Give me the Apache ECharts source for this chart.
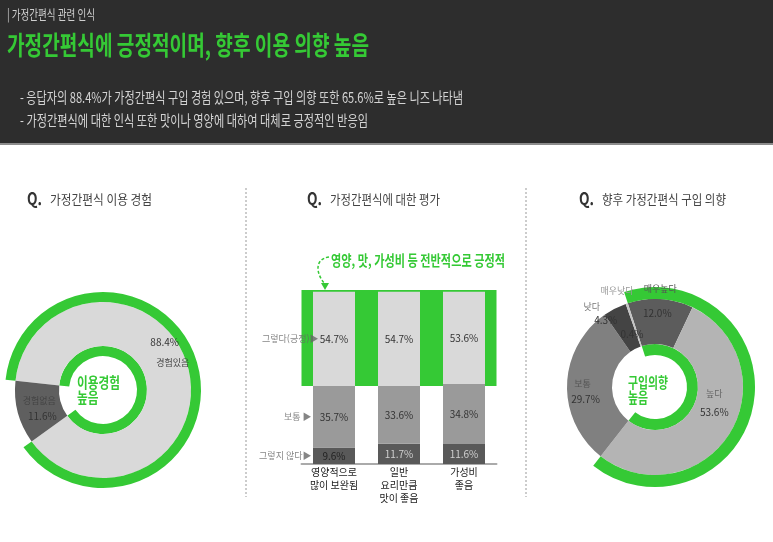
<!DOCTYPE html>
<html lang="ko">
<head>
<meta charset="UTF-8">
<title>가정간편식 관련 인식</title>
<script src="https://cdn.jsdelivr.net/npm/echarts@6.0.0/dist/echarts.min.js"></script>
<style>
  html, body { margin: 0; padding: 0; background: #fff; }
  #main { width: 773px; height: 542px; }
</style>
</head>
<body>
<div id="main"></div>
<script>
  // --- data ---
  var usageNames = ['경험있음', '경험없음']
  var usageValues = [88.4, 11.6]

  var evalCategories = ['영양적으로\n많이 보완됨', '일반\n요리만큼\n맛이 좋음', '가성비\n좋음']
  var evalNegative = [9.6, 11.7, 11.6]   // 그렇지 않다
  var evalNeutral = [35.7, 33.6, 34.8]   // 보통
  var evalPositive = [54.7, 54.7, 53.6]  // 그렇다(긍정)
  var evalRowLabels = ['그렇지 않다▶', '보통 ▶', '그렇다(긍정)▶']

  var intentNames = ['매우높다', '높다', '보통', '낮다', '매우낮다']
  var intentValues = [12.0, 53.6, 29.7, 4.3, 0.4]

  // --- styling ---
  var GREEN = '#35c935'
  var FONT = '"Noto Sans CJK KR", "Noto Sans", sans-serif'
  var usageColors = ['#d9d9d9', '#5f5f5f']
  var usageValueOffsets = [[-5, -30], [6, 8]]
  var usageNameOffsets = [[3, -10], [3, -7]]
  var intentColors = ['#5c5c5c', '#b4b4b4', '#808080', '#444444', '#c4c4c4']
  var intentValueOffsets = [[-2, -5], [1, -11], [-1, 14], [-18, -6], [-1, 12]]
  var intentNameOffsets = [[1, -30], [1, -29], [-4, -1], [-32, -19], [-16, -32]]
  var intentNameColors = ['#555', '#666', '#555', '#777', '#999']

  var chart = echarts.init(document.getElementById('main'))
  window.onresize = function () { chart.resize() }

  var measure = document.createElement('canvas').getContext('2d')
  function txt(text, x, y, size, color, weight, width, scale) {
    var font = (weight || 'normal') + ' ' + size + 'px ' + FONT
    measure.font = font
    var s = scale || (width ? width / measure.measureText(text).width : 1)
    return {
      type: 'text', x: x, y: y, scaleX: s, silent: true, z: 10,
      style: { text: text, font: font, fill: color, verticalAlign: 'middle' }
    }
  }
  function scaleFor(text, size, weight, width) {
    measure.font = (weight || 'normal') + ' ' + size + 'px ' + FONT
    return width / measure.measureText(text).width
  }
  function pct(v) { return Number(v).toFixed(1) + '%' }
  function sum(a) { return a.reduce(function (s, v) { return s + v }, 0) }

  // rings follow the positive share of each pie
  var usageYes = usageValues[0]
  var intentYes = intentValues[0] + intentValues[1]

  function ring(center, radius, startAngle, share) {
    return {
      type: 'pie', center: center, radius: radius, startAngle: startAngle,
      silent: true, animation: false, label: { show: false }, labelLine: { show: false },
      data: [
        { value: share, itemStyle: { color: GREEN } },
        { value: 100 - share, itemStyle: { color: 'rgba(0,0,0,0)' } }
      ]
    }
  }

  var leftC = [103, 390], rightC = [655, 387]

  var centerScale = scaleFor('이용경험', 15, 'bold', 43)
  var centerScale2 = scaleFor('구입의향', 15, 'bold', 40)

  var graphics = [
    { type: 'rect', silent: true, shape: { x: 0, y: 0, width: 773, height: 143 }, style: { fill: '#2d2d2d' } },
    { type: 'rect', silent: true, shape: { x: 0, y: 143, width: 773, height: 2 }, style: { fill: '#8c8c8c' } },
    txt('| 가정간편식 관련 인식', 7, 14, 13, '#cfcfcf', 'normal', 88),
    txt('가정간편식에 긍정적이며, 향후 이용 의향 높음', 7, 45, 26, GREEN, 'bold', 362),
    txt('- 응답자의 88.4%가 가정간편식 구입 경험 있으며, 향후 구입 의향 또한 65.6%로 높은 니즈 나타냄', 20, 97, 15, '#d4d4d4', 'normal', 443),
    txt('- 가정간편식에 대한 인식 또한 맛이나 영양에 대하여 대체로 긍정적인 반응임', 20, 120, 15, '#d4d4d4', 'normal', 348),

    txt('Q.', 27, 199, 17, '#333', 'bold', 15),
    txt('가정간편식 이용 경험', 50, 199, 13, '#444', 'normal', 102),
    txt('Q.', 307, 199, 17, '#333', 'bold', 15),
    txt('가정간편식에 대한 평가', 330, 199, 13, '#444', 'normal', 110),
    txt('Q.', 579, 199, 17, '#333', 'bold', 15),
    txt('향후 가정간편식 구입 의향', 602, 199, 13, '#444', 'normal', 124),

    { type: 'line', silent: true, shape: { x1: 246, y1: 188, x2: 246, y2: 497 }, style: { stroke: '#999', lineWidth: 1, lineDash: [2, 2] } },
    { type: 'line', silent: true, shape: { x1: 526, y1: 188, x2: 526, y2: 497 }, style: { stroke: '#999', lineWidth: 1, lineDash: [2, 2] } },

    txt('영양, 맛, 가성비 등 전반적으로 긍정적', 331, 260, 15, GREEN, 'bold', 174),
    { type: 'bezierCurve', silent: true, shape: { x1: 329, y1: 257, cpx1: 314, cpy1: 259, cpx2: 316, cpy2: 274, x2: 325, y2: 284 }, style: { stroke: GREEN, lineWidth: 1.5, lineDash: [3, 2], fill: null } },
    { type: 'polygon', silent: true, shape: { points: [[321, 283], [329, 283], [325, 290]] }, style: { fill: GREEN } },

    txt('이용경험', 77, 382, 15, GREEN, 'bold', null, centerScale),
    txt('높음', 77, 397, 15, GREEN, 'bold', null, centerScale),
    txt('구입의향', 628, 382, 15, GREEN, 'bold', null, centerScale2),
    txt('높음', 628, 397, 15, GREEN, 'bold', null, centerScale2)
  ]

  // mid heights of the first bar's segments, for the row captions
  var c0 = [evalNegative[0], evalNeutral[0], evalPositive[0]]
  var rowMids = [c0[0] / 2, c0[0] + c0[1] / 2, c0[0] + c0[1] + c0[2] / 2]
  var rowDistances = [22, 22, 15]

  var barLabel = { show: true, position: 'inside', fontSize: 10, color: '#333', formatter: function (p) { return pct(p.value) } }

  var options = {
    animation: false,
    textStyle: { fontFamily: FONT },
    graphic: graphics,
    grid: { left: 301.5, right: 276.5, top: 290, bottom: 78, outerBoundsMode: 'none' },
    xAxis: {
      type: 'category', data: evalCategories,
      axisTick: { show: false },
      axisLine: { lineStyle: { color: '#aaa', width: 2 } },
      axisLabel: { fontSize: 10, color: '#222', lineHeight: 13, margin: 2, interval: 0 }
    },
    yAxis: { type: 'value', min: 0, max: 101, show: false },
    series: [
      {
        type: 'line', data: [], z: 1, silent: true,
        markArea: {
          silent: true,
          itemStyle: { color: GREEN, opacity: 1 },
          data: [[{ yAxis: evalNegative[0] + evalNeutral[0] }, { yAxis: 101 }]]
        }
      },
      {
        name: '그렇지 않다', type: 'bar', stack: 'eval', barWidth: 42, z: 2, silent: true,
        itemStyle: { color: '#595959' },
        label: barLabel,
        data: evalNegative.map(function (v, i) {
          return { value: v, label: { color: i === 0 ? '#222' : '#d0d0d0' } }
        })
      },
      {
        name: '보통', type: 'bar', stack: 'eval', barWidth: 42, z: 2, silent: true,
        itemStyle: { color: '#9a9a9a' }, label: barLabel, data: evalNeutral
      },
      {
        name: '그렇다', type: 'bar', stack: 'eval', barWidth: 42, z: 2, silent: true,
        itemStyle: { color: '#d9d9d9' }, label: barLabel, data: evalPositive
      },
      {
        type: 'scatter', z: 5, silent: true, symbolSize: 1,
        itemStyle: { color: 'rgba(0,0,0,0)' },
        data: rowMids.map(function (m, i) {
          return {
            value: [0, m],
            label: {
              show: true, position: 'left', distance: rowDistances[i],
              fontSize: 9, color: '#666', formatter: evalRowLabels[i]
            }
          }
        })
      },

      // left donut: 이용 경험
      ring(leftC, [34, 44], 174, usageYes),
      {
        type: 'pie', center: leftC, radius: [44, 88], startAngle: 174,
        silent: true, labelLine: { show: false },
        label: { show: true, position: 'inside', fontSize: 10, color: '#333', formatter: function (p) { return pct(p.value) } },
        data: usageNames.map(function (n, i) {
          return { name: n, value: usageValues[i], itemStyle: { color: usageColors[i] }, label: { offset: usageValueOffsets[i] } }
        })
      },
      {
        type: 'pie', center: leftC, radius: [44, 88], startAngle: 174, z: 3,
        silent: true, labelLine: { show: false },
        label: { show: true, position: 'inside', fontSize: 9, color: '#444', formatter: '{b}' },
        data: usageNames.map(function (n, i) {
          return { name: n, value: usageValues[i], itemStyle: { color: 'rgba(0,0,0,0)' }, label: { offset: usageNameOffsets[i] } }
        })
      },
      ring(leftC, [88, 98], 174, usageYes),

      // right donut: 구입 의향
      ring(rightC, [32, 43], 108, intentYes),
      {
        type: 'pie', center: rightC, radius: [43, 88], startAngle: 108,
        silent: true, labelLine: { show: false },
        label: { show: true, position: 'inside', fontSize: 10, color: '#333', formatter: function (p) { return pct(p.value) } },
        data: intentNames.map(function (n, i) {
          return { name: n, value: intentValues[i], itemStyle: { color: intentColors[i] }, label: { offset: intentValueOffsets[i] } }
        })
      },
      ring(rightC, [88, 100], 108, intentYes),
      {
        type: 'pie', center: rightC, radius: [43, 88], startAngle: 108, z: 3,
        silent: true, labelLine: { show: false },
        label: { show: true, position: 'inside', fontSize: 9, formatter: '{b}' },
        data: intentNames.map(function (n, i) {
          return {
            name: n, value: intentValues[i], itemStyle: { color: 'rgba(0,0,0,0)' },
            label: { offset: intentNameOffsets[i], color: intentNameColors[i] }
          }
        })
      }
    ]
  }
  chart.setOption(options)
</script>
</body>
</html>
